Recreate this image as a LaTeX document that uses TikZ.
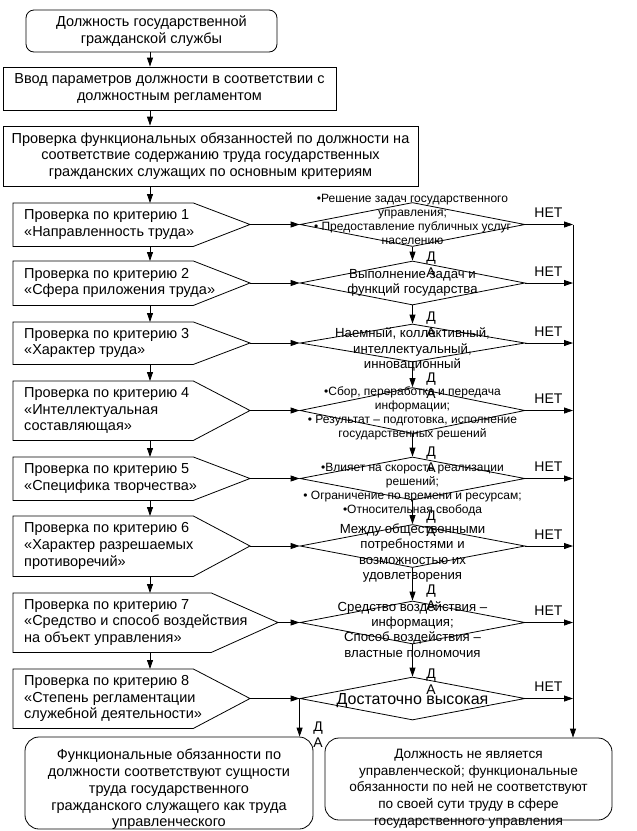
\documentclass[tikz,border=0pt]{standalone}
\usepackage{fontspec}
\setmainfont{Liberation Sans}
\usetikzlibrary{arrows.meta,shapes.geometric,calc}
\newcommand\mainsz{\fontsize{14.5}{16.7}\selectfont}
\newcommand\rsz{\fontsize{13.6}{16.7}\selectfont}
\newcommand\smallsz{\fontsize{12}{14}\selectfont}
\newcommand\medsz{\fontsize{13.2}{15.2}\selectfont}
\newcommand\bigsz{\fontsize{16}{18}\selectfont}
\newcommand\labsz{\fontsize{14}{15.5}\selectfont}
\begin{document}
\begin{tikzpicture}[x=1pt,y=-1pt,
  ln/.style={line width=0.8pt},
  arr/.style={line width=0.8pt,-{Triangle[length=9pt,width=6pt]}},
  box/.style={draw,line width=0.8pt,inner sep=0pt,align=center,font=\mainsz},
  txt/.style={inner sep=0pt,align=center,font=\mainsz},
  rbox/.style={draw,line width=0.8pt,rounded corners=14pt,inner sep=0pt},
  crit/.style={inner sep=0pt,anchor=north west},
  crittext/.style={inner sep=0pt,anchor=west,align=left,font=\mainsz},
  dia/.style={draw,line width=0.8pt,diamond,inner sep=0pt,minimum width=225pt},
  diatext/.style={inner sep=0pt,align=center,font=\smallsz},
  diatextm/.style={inner sep=0pt,align=center,font=\medsz},
  lab/.style={inner sep=0pt,font=\labsz,align=center}
]
\useasboundingbox (0,0) rectangle (637,831);
\fill[white] (0,0) rectangle (637,831);
\coordinate (ax) at (150,0);

% top blocks
\node[box,rounded corners=8pt,minimum width=251pt,minimum height=42pt] (s) at (151.5,31) {Должность государственной\\гражданской службы};
\node[box,minimum width=333pt,minimum height=43pt] (b2) at (169.5,88.5) {Ввод параметров должности в соответствии с\\должностным регламентом};
\node[box,minimum width=415pt,minimum height=60pt] (b3) at (210.5,156) {Проверка функциональных обязанностей по должности на\\соответствие содержанию труда государственных\\гражданских служащих по основным критериям};
\draw[arr] (s.south -| ax) -- (b2.north -| ax);
\draw[arr] (b2.south -| ax) -- (b3.north -| ax);

% criterion rows
\node[crit,minimum width=180pt,minimum height=43pt] (c1) at (13,203) {};
\node[crittext] (ct1) at (24,224.5) {Проверка по критерию 1\\«Направленность труда»};
\coordinate (t1) at (250,224.5);
\node[crit,minimum width=180pt,minimum height=44pt] (c2) at (13,261) {};
\node[crittext] (ct2) at (24,283) {Проверка по критерию 2\\«Сфера приложения труда»};
\coordinate (t2) at (250,283);
\node[crit,minimum width=180pt,minimum height=42pt] (c3) at (13,322) {};
\node[crittext] (ct3) at (24,343) {Проверка по критерию 3\\«Характер труда»};
\coordinate (t3) at (250,343);
\node[crit,minimum width=180pt,minimum height=59pt] (c4) at (13,381) {};
\node[crittext] (ct4) at (24,410.5) {Проверка по критерию 4\\«Интеллектуальная\\составляющая»};
\coordinate (t4) at (250,410.5);
\node[crit,minimum width=180pt,minimum height=43pt] (c5) at (13,457) {};
\node[crittext] (ct5) at (24,478.5) {Проверка по критерию 5\\«Специфика творчества»};
\coordinate (t5) at (250,478.5);
\node[crit,minimum width=180pt,minimum height=60pt] (c6) at (13,516) {};
\node[crittext] (ct6) at (24,546) {Проверка по критерию 6\\«Характер разрешаемых\\противоречий»};
\coordinate (t6) at (250,546);
\node[crit,minimum width=198pt,minimum height=59pt] (c7) at (13,593) {};
\node[crittext] (ct7) at (24,622.5) {Проверка по критерию 7\\«Средство и способ воздействия\\на объект управления»};
\coordinate (t7) at (278,622.5);
\node[crit,minimum width=180pt,minimum height=59pt] (c8) at (13,669) {};
\node[crittext] (ct8) at (24,698.5) {Проверка по критерию 8\\«Степень регламентации\\служебной деятельности»};
\coordinate (t8) at (250,698.5);
\foreach \i in {1,...,8}{
  \draw[ln] (c\i.north west) -- (c\i.north east) -- (t\i) -- (c\i.south east) -- (c\i.south west) -- cycle;
}
\draw[arr] (b3.south -| ax) -- (c1.north -| ax);
\foreach \i/\j in {1/2,2/3,3/4,4/5,5/6,6/7,7/8}{
  \draw[arr] (c\i.south -| ax) -- (c\j.north -| ax);
}

% diamonds
\node[dia,minimum height=44pt] (d1) at (412.5,224.5) {};
\node[dia,minimum height=44pt] (d2) at (412.5,283) {};
\node[dia,minimum height=38pt] (d3) at (412.5,343) {};
\node[dia,minimum height=46pt] (d4) at (412.5,410.5) {};
\node[dia,minimum height=43pt] (d5) at (412.5,478.5) {};
\node[dia,minimum height=43pt] (d6) at (412.5,546) {};
\node[dia,minimum height=43pt] (d7) at (412.5,622.5) {};
\node[dia,minimum height=43pt] (d8) at (412.5,698.5) {};

\node[diatext] (dt1) at (412.5,219.5) {•Решение задач государственного\\управления;\\• Предоставление публичных услуг\\населению};
\node[diatextm] (dt2) at (412.5,283) {Выполнение задач и\\функций государства};
\node[diatextm] (dt3) at (412.5,349.5) {Наемный, коллективный,\\интеллектуальный,\\инновационный};
\node[diatext] (dt4) at (412.5,413) {•Сбор, переработка и передача\\информации;\\• Результат – подготовка, исполнение\\государственных решений};
\node[diatext] (dt5) at (412.5,490) {•Влияет на скорость реализации\\решений;\\• Ограничение по времени и ресурсам;\\•Относительная свобода};
\node[diatextm] (dt6) at (412.5,553) {Между общественными\\потребностями и\\возможностью их\\удовлетворения};
\node[diatextm] (dt7) at (412.5,629.5) {Средство воздействия –\\информация;\\Способ воздействия –\\властные полномочия};
\node[inner sep=0pt,font=\bigsz] (dt8) at (412.5,701) {Достаточно высокая};

% arrows criteria -> diamonds
\foreach \i in {1,...,7}{
  \draw[arr] (t\i) -- (t\i -| d\i.west);
}
\draw[arr] (t8) -- (d8.west);

% yes arrows between diamonds
\foreach \i/\j in {1/2,2/3,3/4,4/5,5/6,6/7,7/8}{
  \draw[arr] (d\i.south) -- (d\j.north);
}
\node[lab,anchor=north] (y2) at (431,252) {Д\\А};
\node[lab,anchor=north] (y3) at (431,312) {Д\\А};
\node[lab,anchor=north] (y4) at (431,373) {Д\\А};
\node[lab,anchor=north] (y5) at (431,447) {Д\\А};
\node[lab,anchor=north] (y6) at (431,511) {Д\\А};
\node[lab,anchor=north] (y7) at (431,585) {Д\\А};
\node[lab,anchor=north] (y8) at (431,669) {Д\\А};

% bottom boxes
\node[rbox,minimum width=288pt,minimum height=92pt] (l) at (169,783) {};
\node[txt] (lt) at (169,789.5) {Функциональные обязанности по\\должности соответствуют сущности\\труда государственного\\гражданского служащего как труда\\управленческого};
\node[rbox,minimum width=287pt,minimum height=82pt] (r) at (468.5,779) {};
\node[txt,font=\rsz] (rt) at (468.5,788.5) {Должность не является\\управленческой; функциональные\\обязанности по ней не соответствуют\\по своей сути труду в сфере\\государственного управления};

\draw[arr] (d8.west) -- (d8.west |- l.north);
\node[lab,anchor=north] (y9) at (318,722) {Д\\А};

% NO arrows
\foreach \i in {1,...,8}{
  \coordinate (n\i) at (d\i.east -| 573,0);
  \draw[arr] (d\i.east) -- (n\i);
  \node[lab,anchor=base] (nl\i) at ($(d\i.east)+(23,-7)$) {НЕТ};
}
\draw[arr] (n1) -- (n1 |- r.north);
\end{tikzpicture}
\end{document}
